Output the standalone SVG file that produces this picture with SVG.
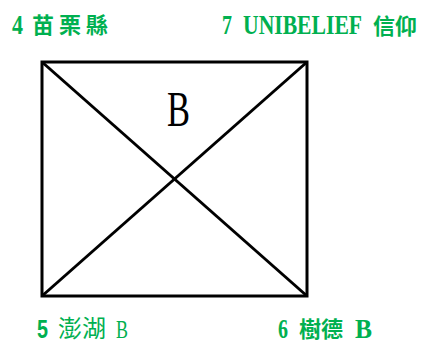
<svg xmlns="http://www.w3.org/2000/svg" width="431" height="343" viewBox="0 0 431 343">
<style>
text{fill:#00b050}
.lat{font-family:"Liberation Serif",serif;font-weight:bold;font-size:28px}
.cjk{font-family:"Noto Sans CJK TC","Noto Sans CJK SC",sans-serif;font-weight:bold;font-size:22px}
.latn{font-family:"Liberation Serif",serif;font-weight:normal;font-size:26px}
.latsans{font-family:"Liberation Sans",sans-serif;font-weight:bold;font-size:26px}
.cjkn{font-family:"Noto Sans CJK TC","Noto Sans CJK SC",sans-serif;font-weight:normal;font-size:24px}
.ln{stroke:#000;stroke-width:3;fill:none}
</style>
<rect width="431" height="343" fill="#fff"/>
<g id="connectors">
<line class="ln" x1="42" y1="62" x2="307" y2="296"/>
<line class="ln" x1="307" y1="62" x2="42" y2="296"/>
</g>
<g id="box">
<rect class="ln" x="42" y="62" width="265" height="234"/>
<text transform="translate(167,126) scale(0.69,1)" font-family="Liberation Serif,serif" font-size="50" style="fill:#000">B</text>
</g>
<g id="n4">
<text class="lat" transform="translate(12,34) scale(0.786,1)">4</text>
<text class="cjk" x="32" y="33">苗</text>
<text class="cjk" x="59" y="33">栗</text>
<text class="cjk" x="86" y="33">縣</text>
</g>
<g id="n7">
<text class="lat" transform="translate(222,34) scale(0.714,1)">7</text>
<text class="lat" transform="translate(243,34) scale(0.773,1)">UNIBELIEF</text>
<text class="cjk" x="373" y="34" font-size="26">信仰</text>
</g>
<g id="n5">
<text class="latsans" transform="translate(37,338) scale(0.76,1)">5</text>
<text class="cjkn" x="58" y="337">澎湖</text>
<text class="latn" transform="translate(116,338) scale(0.69,1)">B</text>
</g>
<g id="n6">
<text class="lat" transform="translate(278,338) scale(0.714,1)">6</text>
<text class="cjk" x="299" y="337" font-size="24">樹德</text>
<text class="lat" transform="translate(355,338) scale(0.91,1)">B</text>
</g>
</svg>
